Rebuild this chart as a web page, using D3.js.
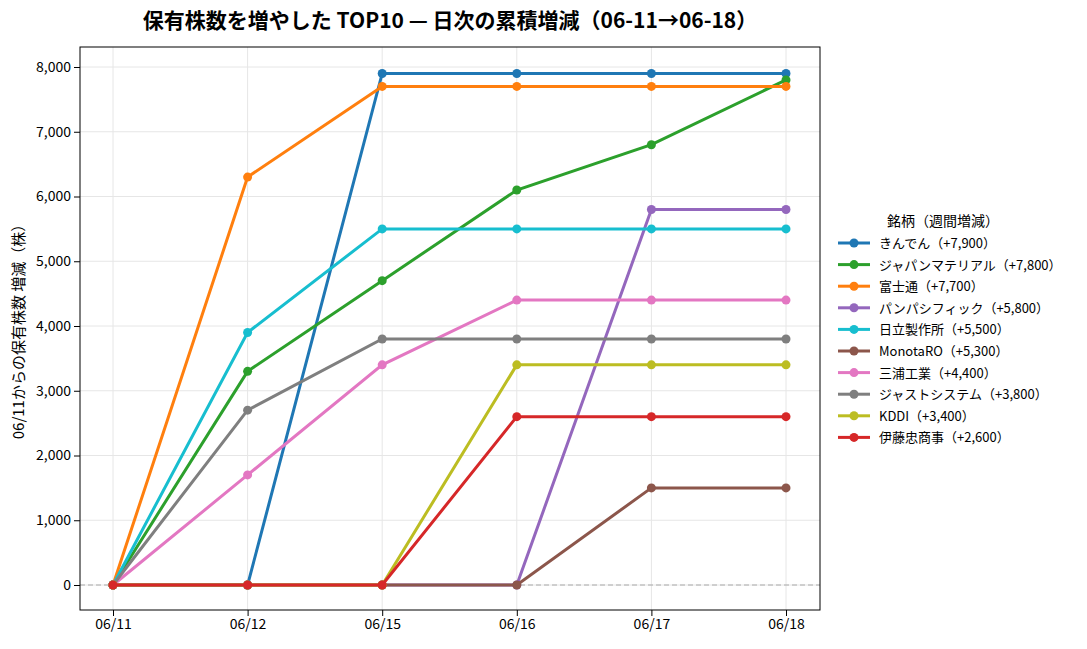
<!DOCTYPE html><html><head><meta charset="utf-8"><script src="https://cdn.jsdelivr.net/npm/d3@7"></script>
<style>body{margin:0;background:#fff;font-family:"Noto Sans CJK JP","Noto Sans",sans-serif}</style></head><body><svg id="c" width="1087" height="649"></svg><script>
const dates=["06/11","06/12","06/15","06/16","06/17","06/18"];
const names=["きんでん（+7,900）","ジャパンマテリアル（+7,800）","富士通（+7,700）","パンパシフィック（+5,800）","日立製作所（+5,500）","MonotaRO（+5,300）","三浦工業（+4,400）","ジャストシステム（+3,800）","KDDI（+3,400）","伊藤忠商事（+2,600）"];
const colors=["#1f77b4","#2ca02c","#ff7f0e","#9467bd","#17becf","#8c564b","#e377c2","#7f7f7f","#bcbd22","#d62728"];
const s0=[0,0,7900,7900,7900,7900];
const s1=[0,3300,4700,6100,6800,7800];
const s2=[0,6300,7700,7700,7700,7700];
const s3=[0,0,0,0,5800,5800];
const s4=[0,3900,5500,5500,5500,5500];
const s5=[0,0,0,0,1500,1500];
const s6=[0,1700,3400,4400,4400,4400];
const s7=[0,2700,3800,3800,3800,3800];
const s8=[0,0,0,3400,3400,3400];
const s9=[0,0,0,2600,2600,2600];
const series=[s0,s1,s2,s3,s4,s5,s6,s7,s8,s9];
const yTicks=[0,1000,2000,3000,4000,5000,6000,7000,8000];
const svg=d3.select("#c");
const L=80,R=820,T=47,B=610;
const x=d3.scalePoint().domain(dates).range([113,786]);
const y=d3.scaleLinear().domain([-386,8309]).range([B,T]);
const g=svg.append("g");
g.selectAll(".gx").data(dates).enter().append("line").attr("x1",d=>x(d)).attr("x2",d=>x(d)).attr("y1",T).attr("y2",B).attr("stroke","#e6e6e6");
g.selectAll(".gy").data(yTicks).enter().append("line").attr("x1",L).attr("x2",R).attr("y1",d=>y(d)).attr("y2",d=>y(d)).attr("stroke","#e6e6e6");
g.append("line").attr("x1",L).attr("x2",R).attr("y1",y(0)).attr("y2",y(0)).attr("stroke","#aaa").attr("stroke-dasharray","5,3");
const line=d3.line().x((d,i)=>x(dates[i])).y(d=>y(d));
series.forEach((s,k)=>{
 g.append("path").attr("d",line(s)).attr("fill","none").attr("stroke",colors[k]).attr("stroke-width",3);
 g.selectAll(null).data(s).enter().append("circle").attr("cx",(d,i)=>x(dates[i])).attr("cy",d=>y(d)).attr("r",4.5).attr("fill",colors[k]);
});
svg.append("rect").attr("x",L).attr("y",T).attr("width",R-L).attr("height",B-T).attr("fill","none").attr("stroke","#000");
const xa=svg.append("g").attr("transform",`translate(0,${B})`).call(d3.axisBottom(x).tickSizeOuter(0));
xa.select(".domain").remove();xa.selectAll("text").attr("font-size",14).attr("fill","#000").attr("font-family","Noto Sans CJK JP");
const ya=svg.append("g").attr("transform",`translate(${L},0)`).call(d3.axisLeft(y).tickValues(yTicks).tickSizeOuter(0));
ya.select(".domain").remove();ya.selectAll("text").attr("font-size",14).attr("fill","#000").attr("font-family","Noto Sans CJK JP");
svg.append("text").attr("x",450).attr("y",28).attr("text-anchor","middle").attr("font-size",21).attr("font-weight","bold").text("保有株数を増やした TOP10 — 日次の累積増減（06-11→06-18）");
svg.append("text").attr("transform","translate(24,328) rotate(-90)").attr("text-anchor","middle").attr("font-size",15).text("06/11からの保有株数 増減（株）");
const lg=svg.append("g");
lg.append("text").attr("x",943).attr("y",226).attr("text-anchor","middle").attr("font-size",14).text("銘柄（週間増減）");
names.forEach((n,i)=>{const yy=243+i*21.6;
 lg.append("line").attr("x1",838).attr("x2",870).attr("y1",yy).attr("y2",yy).attr("stroke",colors[i]).attr("stroke-width",3);
 lg.append("circle").attr("cx",854).attr("cy",yy).attr("r",4.5).attr("fill",colors[i]);
 lg.append("text").attr("x",879).attr("y",yy+5).attr("font-size",13).text(n);
});
</script></body></html>
